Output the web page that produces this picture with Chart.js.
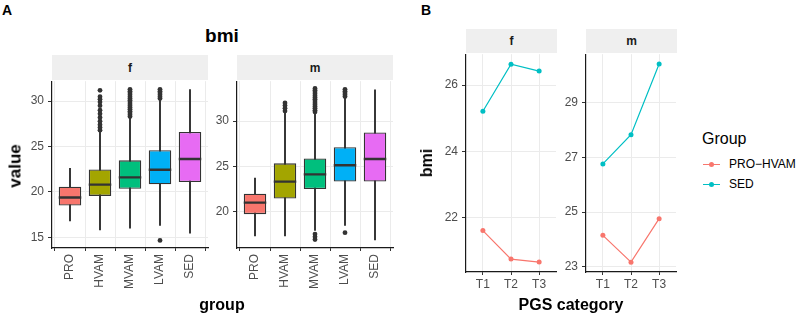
<!DOCTYPE html>
<html>
<head>
<meta charset="utf-8">
<script src="https://cdn.jsdelivr.net/npm/chart.js@4.4.1/dist/chart.umd.min.js"></script>
<style>
  body { margin: 0; background: #fff; }
  #wrap { position: relative; width: 800px; height: 317px; overflow: hidden;
          font-family: "Liberation Sans", Arial, sans-serif; color: #000; }
  canvas { position: absolute; }
  .txt { position: absolute; line-height: 1; white-space: nowrap; }
  .strip { position: absolute; background: #EFEFEF; display: flex; align-items: center;
           justify-content: center; font-weight: bold; font-size: 12px; color: #1A1A1A; }
  .key { position: absolute; height: 1px; width: 17px; }
  .dot { position: absolute; width: 5px; height: 5px; border-radius: 50%; }
</style>
</head>
<body>
<div id="wrap">
  <div class="txt" style="left:2px;top:3px;font-size:14px;font-weight:bold">A</div>
  <div class="txt" style="left:421px;top:3px;font-size:14px;font-weight:bold">B</div>
  <div class="txt" style="left:122px;top:26px;width:200px;text-align:center;font-size:19px;font-weight:bold">bmi</div>

  <div class="strip" style="left:52px;top:55px;width:156px;height:25px">f</div>
  <div class="strip" style="left:237px;top:55px;width:156px;height:25px">m</div>
  <div class="strip" style="left:466px;top:29px;width:91px;height:24px">f</div>
  <div class="strip" style="left:586px;top:29px;width:91px;height:24px">m</div>

  <canvas id="af" width="212" height="240" style="left:0;top:70px"></canvas>
  <canvas id="am" width="212" height="240" style="left:185px;top:70px"></canvas>
  <canvas id="bf" width="146" height="257" style="left:414px;top:43px"></canvas>
  <canvas id="bm" width="146" height="257" style="left:534px;top:43px"></canvas>

  <div class="txt" style="left:15px;top:166px;font-size:17px;font-weight:bold;transform:translate(-50%,-50%) rotate(-90deg)">value</div>
  <div class="txt" style="left:122px;top:297px;width:200px;text-align:center;font-size:16px;font-weight:bold">group</div>
  <div class="txt" style="left:427px;top:163px;font-size:16px;font-weight:bold;transform:translate(-50%,-50%) rotate(-90deg)">bmi</div>
  <div class="txt" style="left:471px;top:297px;width:200px;text-align:center;font-size:16px;font-weight:bold">PGS category</div>

  <div class="txt" style="left:702px;top:131px;font-size:16px">Group</div>
  <div class="key" style="left:703px;top:164px;background:#F8766D"></div>
  <div class="dot" style="left:709px;top:162px;background:#F8766D"></div>
  <div class="txt" style="left:729px;top:158px;font-size:12px">PRO−HVAM</div>
  <div class="key" style="left:703px;top:184px;background:#00BFC4"></div>
  <div class="dot" style="left:709px;top:182px;background:#00BFC4"></div>
  <div class="txt" style="left:729px;top:178px;font-size:12px">SED</div>
</div>

<script>
// ---- Panel A: boxplot summaries ----
const groups = ['PRO', 'HVAM', 'MVAM', 'LVAM', 'SED'];
const groupColors = ['#F8766D', '#A3A500', '#00BF7D', '#00B0F6', '#E76BF3'];

const fLow  = [16.8, 15.8, 16.0, 16.3, 15.45];
const fQ1   = [18.5, 19.56, 20.35, 20.84, 21.1];
const fMed  = [19.38, 20.8, 21.6, 22.45, 23.63];
const fQ3   = [20.58, 22.48, 23.48, 24.6, 26.6];
const fHigh = [22.6, 26.6, 28.1, 30.1, 31.27];
const fOut  = [
  [],
  [26.8, 27.1, 27.4, 27.8, 28.2, 28.6, 29.0, 29.5, 29.9, 30.2, 30.5, 31.2],
  [28.3, 28.5, 28.7, 28.9, 29.1, 29.3, 29.5, 29.7, 29.9, 30.1, 30.3, 30.5, 30.7, 30.9, 31.1, 31.3],
  [30.3, 30.5, 30.7, 30.9, 31.1, 31.3, 14.66],
  []
];

const mLow  = [17.3, 17.3, 17.9, 18.47, 16.85];
const mQ1   = [19.7, 21.43, 22.48, 23.3, 23.3];
const mMed  = [20.98, 23.3, 24.1, 25.1, 25.8];
const mQ3   = [21.96, 25.32, 25.86, 27.1, 28.74];
const mHigh = [23.7, 30.9, 30.9, 32.5, 33.45];
const mOut  = [
  [],
  [31.1, 31.4, 31.7, 32.0],
  [31.0, 31.2, 31.4, 31.6, 31.8, 32.0, 32.2, 32.4, 32.6, 32.8, 33.0, 33.2, 33.4, 33.6, 17.5, 17.2, 16.9],
  [32.7, 32.9, 33.1, 33.3, 33.5, 17.65],
  []
];

// ---- Panel B: mean bmi by PGS tertile ----
const pgsCats = ['T1', 'T2', 'T3'];
const lineGroups = ['PRO−HVAM', 'SED'];
const lineColors = ['#F8766D', '#00BFC4'];
const fPro = [21.61, 20.75, 20.66];
const fSed = [25.21, 26.63, 26.42];
const mPro = [24.15, 23.17, 24.76];
const mSed = [26.76, 27.83, 30.41];

Chart.defaults.font.family = '"Liberation Sans", Arial, sans-serif';
Chart.defaults.animation = false;

const gridColor = '#EBEBEB';
const tickText = '#4D4D4D';

function yAxis(min, max, ticks) {
  return {
    type: 'linear', min, max,
    afterBuildTicks: (s) => { s.ticks = ticks.map((v) => ({ value: v })); },
    afterFit: (s) => { s.width = 52; },
    grid: { color: gridColor, lineWidth: 1, tickLength: 4, tickColor: '#333' },
    border: { color: '#1a1a1a', width: 1.2 },
    ticks: { color: tickText, font: { size: 12 }, padding: 4 }
  };
}

function boxChart(id, low, q1, med, q3, high, outs, yMin, yMax, yTicks) {
  const pts = (arr) => arr.map((v, i) => ({ x: i + 1, y: v }));
  const range = (a, b) => a.map((v, i) => ({ x: i + 1, y: [v, b[i]] }));
  const outliers = [];
  outs.forEach((arr, i) => arr.forEach((v) => outliers.push({ x: i + 1, y: v })));

  new Chart(document.getElementById(id), {
    type: 'bar',
    data: {
      datasets: [
        { type: 'line', data: outliers, showLine: false, order: 0,
          pointRadius: 2.4, pointBackgroundColor: '#333', pointBorderWidth: 0 },
        { type: 'line', data: pts(med), showLine: false, order: 1,
          pointStyle: 'line', borderColor: '#333', pointBorderColor: '#333', pointBorderWidth: 2.4,
          pointRadius: (ctx) => {
            const x = ctx.chart.scales.x;
            return x ? (x.getPixelForValue(1) - x.getPixelForValue(0)) * 0.375 : 11;
          } },
        { type: 'bar', data: range(q1, q3), order: 2, grouped: false,
          backgroundColor: groupColors, borderColor: '#333', borderWidth: 1.3, borderSkipped: false,
          barPercentage: 0.75, categoryPercentage: 1 },
        { type: 'bar', data: range(low, high), order: 3, grouped: false,
          backgroundColor: '#333', borderWidth: 0, barThickness: 1.3 }
      ]
    },
    options: {
      responsive: false, events: [],
      layout: { padding: { top: 10, right: 4, bottom: 0, left: 0 } },
      plugins: { legend: { display: false }, tooltip: { enabled: false } },
      scales: {
        x: {
          type: 'linear', min: 0.4, max: 5.6, offset: false,
          afterBuildTicks: (s) => { s.ticks = groups.map((g, i) => ({ value: i + 1 })); },
          afterFit: (s) => { s.height = 62; },
          grid: { color: gridColor, lineWidth: 1, tickLength: 3, tickColor: '#333' },
          border: { color: '#1a1a1a', width: 1.2 },
          ticks: { color: tickText, font: { size: 12 }, padding: 3, minRotation: 90, maxRotation: 90,
                   autoSkip: false, callback: (v) => groups[v - 1] }
        },
        y: yAxis(yMin, yMax, yTicks)
      }
    }
  });
}

function lineChart(id, pro, sed, yMin, yMax, yTicks) {
  const pts = (arr) => arr.map((v, i) => ({ x: i + 1, y: v }));
  const series = [pro, sed];
  new Chart(document.getElementById(id), {
    type: 'line',
    data: {
      datasets: series.map((s, k) => ({
        label: lineGroups[k], data: pts(s), borderColor: lineColors[k], backgroundColor: lineColors[k],
        borderWidth: 1.2, pointRadius: 2.5, pointBorderWidth: 0, tension: 0
      }))
    },
    options: {
      responsive: false, events: [],
      layout: { padding: { top: 10.3, right: 3.3, bottom: 0, left: 0 } },
      plugins: { legend: { display: false }, tooltip: { enabled: false } },
      scales: {
        x: {
          type: 'linear', min: 0.4, max: 3.6, offset: false,
          afterBuildTicks: (s) => { s.ticks = pgsCats.map((c, i) => ({ value: i + 1 })); },
          afterFit: (s) => { s.height = 28; },
          grid: { color: gridColor, lineWidth: 1, tickLength: 3, tickColor: '#333' },
          border: { color: '#1a1a1a', width: 1.2 },
          ticks: { color: tickText, font: { size: 12 }, padding: 2, maxRotation: 0,
                   autoSkip: false, callback: (v) => pgsCats[v - 1] }
        },
        y: yAxis(yMin, yMax, yTicks)
      }
    }
  });
}

boxChart('af', fLow, fQ1, fMed, fQ3, fHigh, fOut, 13.82, 32.2, [15, 20, 25, 30]);
boxChart('am', mLow, mQ1, mMed, mQ3, mHigh, mOut, 15.96, 34.4, [20, 25, 30]);
lineChart('bf', fPro, fSed, 20.36, 26.93, [22, 24, 26]);
lineChart('bm', mPro, mSed, 22.81, 30.77, [23, 25, 27, 29]);
</script>
</body>
</html>
